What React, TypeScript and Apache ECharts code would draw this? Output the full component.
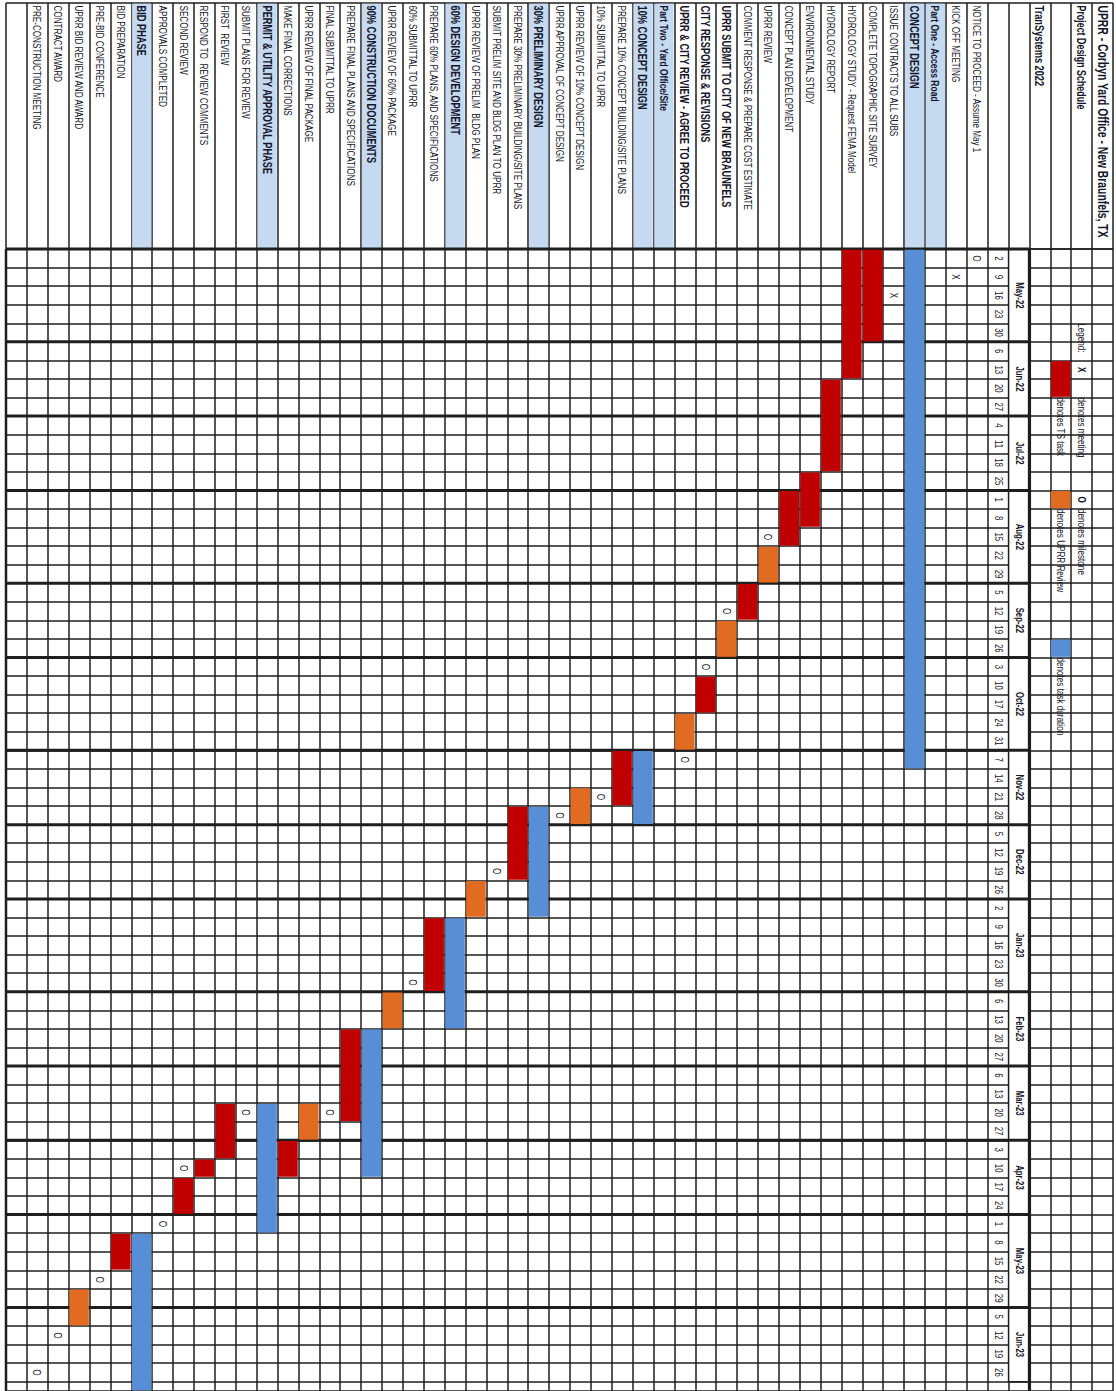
import React, { useEffect, useRef } from "react";
import * as echarts from "echarts";

// ---------- DATA ----------
const chartTitle = "UPRR - Corbyn Yard Office - New Braunfels, TX";
const chartSubtitle = "Project Design Schedule";
const companyLabel = "TranSystems 2022";

const monthLabels = [
  "May-22", "Jun-22", "Jul-22", "Aug-22", "Sep-22", "Oct-22", "Nov-22",
  "Dec-22", "Jan-23", "Feb-23", "Mar-23", "Apr-23", "May-23", "Jun-23",
];
const weekDays = [
  [2, 9, 16, 23, 30], [6, 13, 20, 27], [4, 11, 18, 25], [1, 8, 15, 22, 29],
  [5, 12, 19, 26], [3, 10, 17, 24, 31], [7, 14, 21, 28], [5, 12, 19, 26],
  [2, 9, 16, 23, 30], [6, 13, 20, 27], [6, 13, 20, 27], [3, 10, 17, 24],
  [1, 8, 15, 22, 29], [5, 12, 19, 26],
];

const taskNames = [
  "NOTICE TO PROCEED - Assume May 1",
  "KICK OFF MEETING",
  "Part One - Access Road",
  "CONCEPT DESIGN",
  "ISSUE CONTRACTS TO ALL SUBS",
  "COMPLETE TOPOGRAPHIC SITE SURVEY",
  "HYDROLOGY STUDY - Request FEMA Model",
  "HYDROLOGY REPORT",
  "ENVIRONMENTAL STUDY",
  "CONCEPT PLAN DEVELOPMENT",
  "UPRR REVIEW",
  "COMMENT RESPONSE & PREPARE COST ESTIMATE",
  "UPRR SUBMIT TO CITY OF NEW BRAUNFELS",
  "CITY RESPONSE & REVISIONS",
  "UPRR & CITY REVIEW - AGREE TO PROCEED",
  "Part Two - Yard Office/Site",
  "10% CONCEPT DESIGN",
  "PREPARE 10% CONCEPT BUILDING/SITE PLANS",
  "10% SUBMITTAL TO UPRR",
  "UPRR REVIEW OF 10% CONCEPT DESIGN",
  "UPRR APPROVAL OF CONCEPT DESIGN",
  "30% PRELIMINARY DESIGN",
  "PREPARE 30% PRELIMINARY BUILDING/SITE PLANS",
  "SUBMIT PRELIM SITE AND BLDG PLAN TO UPRR",
  "UPRR REVIEW OF PRELIM  BLDG PLAN",
  "60% DESIGN DEVELOPMENT",
  "PREPARE 60% PLANS, AND SPECIFICATIONS",
  "60% SUBMITTAL TO UPRR",
  "UPRR REVIEW OF 60% PACKAGE",
  "90% CONSTRUCTION DOCUMENTS",
  "PREPARE FINAL PLANS AND SPECIFICATIONS",
  "FINAL SUBMITTAL TO UPRR",
  "UPRR REVIEW OF FINAL PACKAGE",
  "MAKE FINAL CORRECTIONS",
  "PERMIT & UTILITY APPROVAL PHASE",
  "SUBMIT PLANS FOR REVIEW",
  "FIRST  REVIEW",
  "RESPOND TO  REVIEW COMMENTS",
  "SECOND REVIEW",
  "APPROVALS COMPLETED",
  "BID PHASE",
  "BID PREPARATION",
  "PRE-BID CONFERENCE",
  "UPRR BID REVIEW AND AWARD",
  "CONTRACT AWARD",
  "PRE-CONSTRUCTION MEETING",
  "",
];
const sectionTasks = [2, 3, 15, 16, 21, 25, 29, 34, 40];
const boldTasks = [12, 13, 14];

// [taskIndex, firstWeek, lastWeek]
const tsTaskBars = [
  [5, 0, 4], [6, 0, 6], [7, 7, 11], [8, 12, 14], [9, 13, 15], [11, 18, 19],
  [13, 23, 24], [17, 27, 29], [22, 30, 33], [26, 36, 39], [30, 42, 46],
  [33, 48, 49], [36, 46, 48], [37, 49, 49], [38, 50, 51], [41, 53, 54],
];
const uprrReviewBars = [
  [10, 16, 17], [12, 20, 21], [14, 25, 26], [19, 29, 30], [24, 34, 35],
  [28, 40, 41], [32, 46, 47], [43, 56, 57],
];
const durationBars = [
  [3, 0, 27], [16, 27, 30], [21, 30, 35], [25, 36, 41], [29, 42, 49],
  [34, 46, 52], [40, 53, 61],
];
// [taskIndex, week]
const milestoneWeeks = [
  [0, 0], [10, 15], [12, 19], [13, 22], [14, 27], [18, 29], [20, 30], [23, 33],
  [27, 39], [31, 46], [35, 46], [38, 49], [39, 52], [42, 55], [44, 58], [45, 60],
];
const meetingWeeks = [[1, 1], [4, 2]];

// legend: [headerColumn, weekPosition, text]
const legendNotes: [number, number, string][] = [
  [1, 4.0, "Legend:"],
  [1, 8.0, "denotes meeting"],
  [1, 14.0, "denotes milestone"],
  [2, 8.0, "denotes TS task"],
  [2, 14.0, "denotes UPRR Review"],
  [2, 22.0, "denotes task duration"],
];
const legendSymbols: [number, number, string][] = [[1, 6, "X"], [1, 13, "O"]];
// [headerColumn, firstWeek, lastWeek, kind]
const legendSwatches: [number, number, number, string][] = [
  [2, 6, 7, "ts"], [2, 13, 13, "uprr"], [2, 21, 21, "dur"],
];

// ---------- STYLE ----------
const RED = "#c00000";
const ORANGE = "#e26b22";
const BLUE = "#588ed5";
const LABEL_BG = "#c5d9f1";
const LINE = "#1e1e1e";
const TEXT = "#16162a";
const FONT = "'Liberation Sans', Arial, Helvetica, sans-serif";
const SQUEEZE = 0.74;
const KIND_COLOR: Record<string, string> = { ts: RED, uprr: ORANGE, dur: BLUE };

const TASK_COL0 = 6;
const NCOLS = TASK_COL0 + taskNames.length; // 53
const Y_MAX = 61.5;
const MONTH_COL = 4;
const WEEK_COL = 5;

const vtext = (
  x: number, y: number, text: string, size: number, bold: boolean, align: string
) => ({
  type: "text",
  x, y,
  rotation: -Math.PI / 2,
  scaleX: SQUEEZE,
  style: {
    text, fill: TEXT, fontSize: size, fontFamily: FONT,
    fontWeight: bold ? "bold" : "normal", align, verticalAlign: "middle",
  },
});

export default function App() {
  const ref = useRef<HTMLDivElement>(null);

  useEffect(() => {
    const el = ref.current!;
    const chart = echarts.init(el, undefined, { renderer: "svg" });

    const monthStarts: number[] = [];
    let acc = 0;
    weekDays.forEach((m) => { monthStarts.push(acc); acc += m.length; });
    const weekNums = weekDays.flat();

    const labelCells: [number, string, number, boolean][] = [
      [0, chartTitle, 14, true],
      [1, chartSubtitle, 12, true],
      [3, companyLabel, 12.5, true],
    ];
    taskNames.forEach((n, t) => {
      const bold = sectionTasks.includes(t) || boldTasks.includes(t);
      const mixed = n !== n.toUpperCase();
      labelCells.push([t + TASK_COL0, n, bold ? (mixed ? 11.5 : 12.5) : 11, bold]);
    });

    const axisCommon = {
      axisLine: { show: false }, axisTick: { show: false }, axisLabel: { show: false },
    };
    const split = { show: true, lineStyle: { color: LINE, width: 1.5 } };

    const barSeries = (name: string, rows: number[][], color: string) => ({
      type: "custom", name, xAxisIndex: 1, yAxisIndex: 1, silent: true, z: 5,
      data: rows.map((r) => [r[0] + TASK_COL0, r[1], r[2]]),
      renderItem: (params: any, api: any) => {
        const c = api.value(0), s = api.value(1), e = api.value(2);
        const a = api.coord([c + 1, s]);
        const b = api.coord([c, e + 1]);
        const cs = params.coordSys;
        const bottom = Math.min(b[1], cs.y + cs.height);
        return {
          type: "rect",
          shape: { x: a[0] + 0.7, y: a[1] + 0.7, width: b[0] - a[0] - 1.4, height: bottom - a[1] - 1.4 },
          style: { fill: color },
        };
      },
    });

    const markSeries = (name: string, rows: number[][], glyph: string) => ({
      type: "custom", name, xAxisIndex: 1, yAxisIndex: 1, silent: true, z: 7,
      data: rows.map((r) => [r[0] + TASK_COL0, r[1]]),
      renderItem: (_p: any, api: any) => {
        const p = api.coord([api.value(0) + 0.5, api.value(1) + 0.5]);
        return vtext(p[0], p[1], glyph, 11, false, "center");
      },
    });

    const option: any = {
      animation: false,
      backgroundColor: "#ffffff",
      grid: [
        { left: 6, right: 3, top: 3, height: 246 },
        { left: 6, right: 3, top: 249, bottom: 0 },
      ],
      xAxis: [0, 1].map((i) => ({
        type: "value", gridIndex: i, min: 0, max: NCOLS, interval: 1, inverse: true,
        ...axisCommon, splitLine: split,
      })),
      yAxis: [
        { type: "value", gridIndex: 0, min: 0, max: 1, interval: 1, ...axisCommon, splitLine: split },
        { type: "value", gridIndex: 1, min: 0, max: Y_MAX, interval: 1, inverse: true, ...axisCommon, splitLine: split },
      ],
      series: [
        // section header backgrounds in label area
        {
          type: "custom", name: "sections", xAxisIndex: 0, yAxisIndex: 0, silent: true, z: 2,
          data: sectionTasks.map((t) => [t + TASK_COL0, 0]),
          renderItem: (_p: any, api: any) => {
            const c = api.value(0);
            const a = api.coord([c + 1, 1]);
            const b = api.coord([c, 0]);
            return {
              type: "rect",
              shape: { x: a[0] + 0.8, y: a[1] + 0.8, width: b[0] - a[0] - 1.6, height: b[1] - a[1] - 1.6 },
              style: { fill: LABEL_BG },
            };
          },
        },
        // row labels
        {
          type: "custom", name: "labels", xAxisIndex: 0, yAxisIndex: 0, silent: true, z: 3,
          data: labelCells.map((l) => [l[0], 1]),
          renderItem: (params: any, api: any) => {
            const cell = labelCells[params.dataIndex];
            const p = api.coord([api.value(0) + 0.5, 1]);
            return vtext(p[0], p[1] + 2.5, cell[1], cell[2], cell[3], "left");
          },
        },
        // month cells
        {
          type: "custom", name: "months", xAxisIndex: 1, yAxisIndex: 1, silent: true, z: 3,
          data: monthStarts.map((s, i) => [MONTH_COL, s, s + weekDays[i].length]),
          renderItem: (params: any, api: any) => {
            const s = api.value(1), e = api.value(2);
            const a = api.coord([MONTH_COL + 1, s]);
            const b = api.coord([MONTH_COL, e]);
            const m = api.coord([MONTH_COL + 0.5, (s + e) / 2]);
            return {
              type: "group",
              children: [
                {
                  type: "rect",
                  shape: { x: a[0], y: a[1], width: b[0] - a[0], height: b[1] - a[1] },
                  style: { fill: "#fff", stroke: LINE, lineWidth: 1.5 },
                },
                vtext(m[0], m[1], monthLabels[params.dataIndex], 10.5, true, "center"),
              ],
            };
          },
        },
        // week numbers
        {
          type: "custom", name: "weeks", xAxisIndex: 1, yAxisIndex: 1, silent: true, z: 3,
          data: weekNums.map((_d, i) => [WEEK_COL, i]),
          renderItem: (params: any, api: any) => {
            const p = api.coord([WEEK_COL + 0.5, api.value(1) + 0.5]);
            return vtext(p[0], p[1], String(weekNums[params.dataIndex]), 10.5, false, "center");
          },
        },
        // thick month boundaries
        {
          type: "custom", name: "monthLines", xAxisIndex: 1, yAxisIndex: 1, silent: true, z: 4,
          data: monthStarts.map((s) => [MONTH_COL, s]),
          renderItem: (_p: any, api: any) => {
            const w = api.value(1);
            const a = api.coord([NCOLS, w]);
            const b = api.coord([MONTH_COL, w]);
            return { type: "line", shape: { x1: a[0], y1: a[1], x2: b[0], y2: b[1] }, style: { stroke: LINE, lineWidth: 3 } };
          },
        },
        // frame verticals
        {
          type: "custom", name: "frame", xAxisIndex: 1, yAxisIndex: 1, silent: true, z: 4,
          data: [[MONTH_COL, 0], [NCOLS, 0]],
          renderItem: (params: any, api: any) => {
            const c = api.value(0);
            const a = api.coord([c, 0]);
            const b = api.coord([c, Y_MAX]);
            return { type: "line", shape: { x1: a[0], y1: a[1], x2: b[0], y2: b[1] }, style: { stroke: LINE, lineWidth: params.dataIndex === 0 ? 3.2 : 2.5 } };
          },
        },
        barSeries("TS task", tsTaskBars, RED),
        barSeries("UPRR Review", uprrReviewBars, ORANGE),
        barSeries("Task duration", durationBars, BLUE),
        markSeries("Milestone", milestoneWeeks, "O"),
        markSeries("Meeting", meetingWeeks, "X"),
        // legend swatches
        {
          type: "custom", name: "legendSwatches", xAxisIndex: 1, yAxisIndex: 1, silent: true, z: 5,
          data: legendSwatches.map((l) => [l[0], l[1], l[2]]),
          renderItem: (params: any, api: any) => {
            const c = api.value(0), s = api.value(1), e = api.value(2);
            const a = api.coord([c + 1, s]);
            const b = api.coord([c, e + 1]);
            return {
              type: "rect",
              shape: { x: a[0] + 0.7, y: a[1] + 0.7, width: b[0] - a[0] - 1.4, height: b[1] - a[1] - 1.4 },
              style: { fill: KIND_COLOR[legendSwatches[params.dataIndex][3]] },
            };
          },
        },
        // legend texts
        {
          type: "custom", name: "legendNotes", xAxisIndex: 1, yAxisIndex: 1, silent: true, z: 6,
          data: legendNotes.map((l) => [l[0], l[1]]),
          renderItem: (params: any, api: any) => {
            const p = api.coord([api.value(0) + 0.5, api.value(1)]);
            return vtext(p[0], p[1], legendNotes[params.dataIndex][2], 11, false, "left");
          },
        },
        {
          type: "custom", name: "legendSymbols", xAxisIndex: 1, yAxisIndex: 1, silent: true, z: 6,
          data: legendSymbols.map((l) => [l[0], l[1]]),
          renderItem: (params: any, api: any) => {
            const p = api.coord([api.value(0) + 0.5, api.value(1) + 0.5]);
            return vtext(p[0], p[1], legendSymbols[params.dataIndex][2], 11, true, "center");
          },
        },
      ],
    };

    chart.setOption(option);
    return () => chart.dispose();
  }, []);

  return (
    <div
      ref={ref}
      style={{ position: "absolute", left: 0, top: 0, width: 1116, height: 1391, background: "#fff" }}
    />
  );
}
